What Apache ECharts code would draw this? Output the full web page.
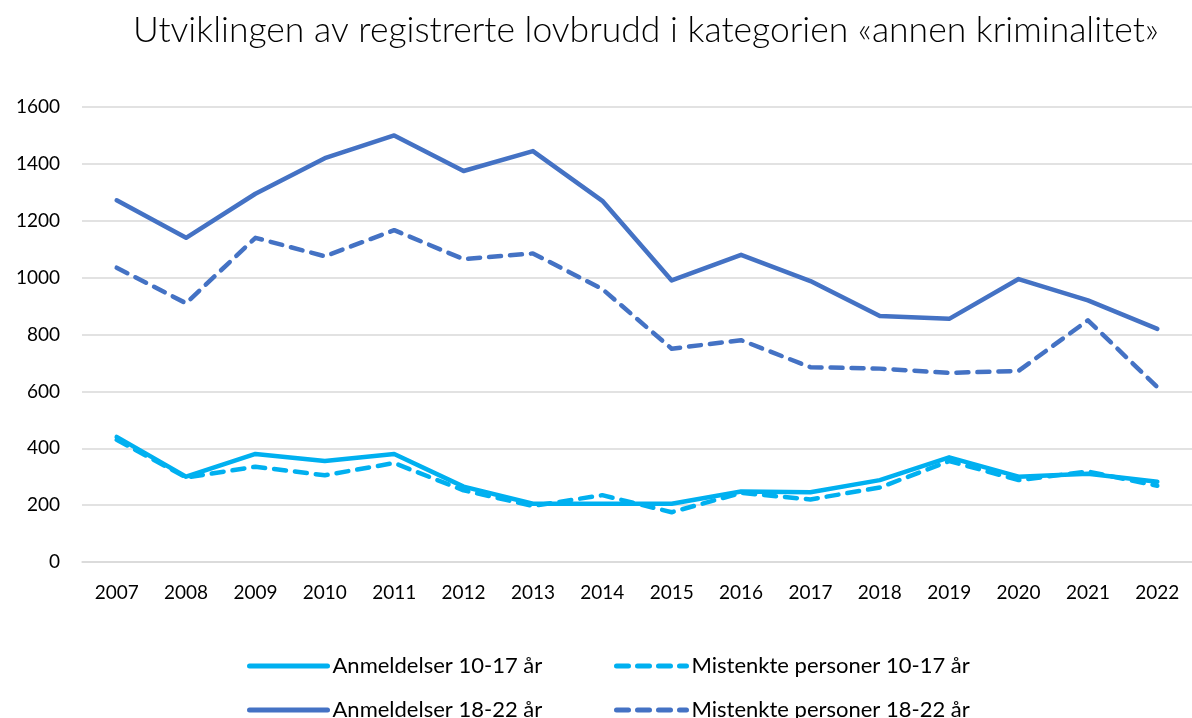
<!DOCTYPE html>
<html>
<head>
<meta charset="utf-8">
<script src="https://cdn.jsdelivr.net/npm/echarts@6/dist/echarts.min.js"></script>
<style>
  html, body { margin: 0; padding: 0; background: #fff; }
  #chart { width: 1192px; height: 718px; }
</style>
</head>
<body>
<div id="chart"></div>
<script>
const years = ['2007', '2008', '2009', '2010', '2011', '2012', '2013', '2014',
  '2015', '2016', '2017', '2018', '2019', '2020', '2021', '2022'];

// anmeldelser / mistenkte, 10-17 år
const anmeldelser1017 = [440, 300, 380, 355, 380, 265, 205, 205, 205, 248, 245, 288, 368, 300, 310, 282];
const mistenkte1017 = [430, 297, 335, 305, 348, 252, 197, 235, 175, 243, 220, 262, 355, 288, 318, 268];

// anmeldelser / mistenkte, 18-22 år
const anmeldelser1822 = [1272, 1140, 1295, 1420, 1500, 1375, 1445, 1270, 990, 1080, 988, 865, 855, 995, 920, 820];
const mistenkte1822 = [1035, 910, 1140, 1075, 1167, 1065, 1085, 960, 750, 780, 685, 680, 665, 672, 850, 615];

const yTicks = [0, 200, 400, 600, 800, 1000, 1200, 1400, 1600];

const lightBlue = '#00B0F0';
const darkBlue = '#4472C4';
const font = 'Lato, "Open Sans", sans-serif';

function lineSeries(name, data, color, dashed) {
  return {
    name,
    type: 'line',
    data,
    symbol: 'none',
    smooth: false,
    lineStyle: {
      color,
      width: 4.5,
      type: dashed ? [12, 9] : 'solid',
      cap: 'round',
      join: 'round',
    },
    itemStyle: { color },
  };
}

function legendItem(name, left, top, width) {
  return {
    data: [name],
    left,
    top,
    itemWidth: width,
    itemHeight: 6,
    itemGap: 0,
    itemStyle: { opacity: 0 },
    lineStyle: { width: 5, type: 'inherit', cap: 'round' },
    textStyle: { fontFamily: font, fontSize: 22, color: '#000' },
  };
}

const myChart = echarts.init(document.getElementById('chart'));
myChart.setOption({
  animation: false,
  backgroundColor: '#fff',
  title: {
    text: 'Utviklingen av registrerte lovbrudd i kategorien «annen kriminalitet»',
    left: 128,
    top: 8,
    textStyle: { fontFamily: font, fontWeight: 300, fontSize: 35.5, color: '#000' },
  },
  legend: [
    legendItem('Anmeldelser 10-17 år', 242, 650, 78),
    legendItem('Mistenkte personer 10-17 år', 609, 650, 70),
    legendItem('Anmeldelser 18-22 år', 242, 694, 78),
    legendItem('Mistenkte personer 18-22 år', 609, 694, 70),
  ],
  grid: {
    left: 82,
    right: 0,
    top: 107,
    bottom: 156,
    containLabel: false,
  },
  xAxis: {
    type: 'category',
    data: years,
    boundaryGap: true,
    axisLine: { show: true, lineStyle: { color: '#D9D9D9', width: 1.5 } },
    axisTick: { show: false },
    axisLabel: { fontFamily: font, fontSize: 19, color: '#000', margin: 21 },
  },
  yAxis: {
    type: 'value',
    min: yTicks[0],
    max: yTicks[yTicks.length - 1],
    interval: 200,
    axisLine: { show: false },
    axisTick: { show: false },
    axisLabel: {
      fontFamily: font, fontSize: 19, color: '#000', margin: 22,
      formatter: (v) => String(v),
    },
    splitLine: { show: true, lineStyle: { color: '#D9D9D9', width: 1.5 } },
  },
  series: [
    lineSeries('Anmeldelser 10-17 år', anmeldelser1017, lightBlue, false),
    lineSeries('Mistenkte personer 10-17 år', mistenkte1017, lightBlue, true),
    lineSeries('Anmeldelser 18-22 år', anmeldelser1822, darkBlue, false),
    lineSeries('Mistenkte personer 18-22 år', mistenkte1822, darkBlue, true),
  ],
});
</script>
</body>
</html>
